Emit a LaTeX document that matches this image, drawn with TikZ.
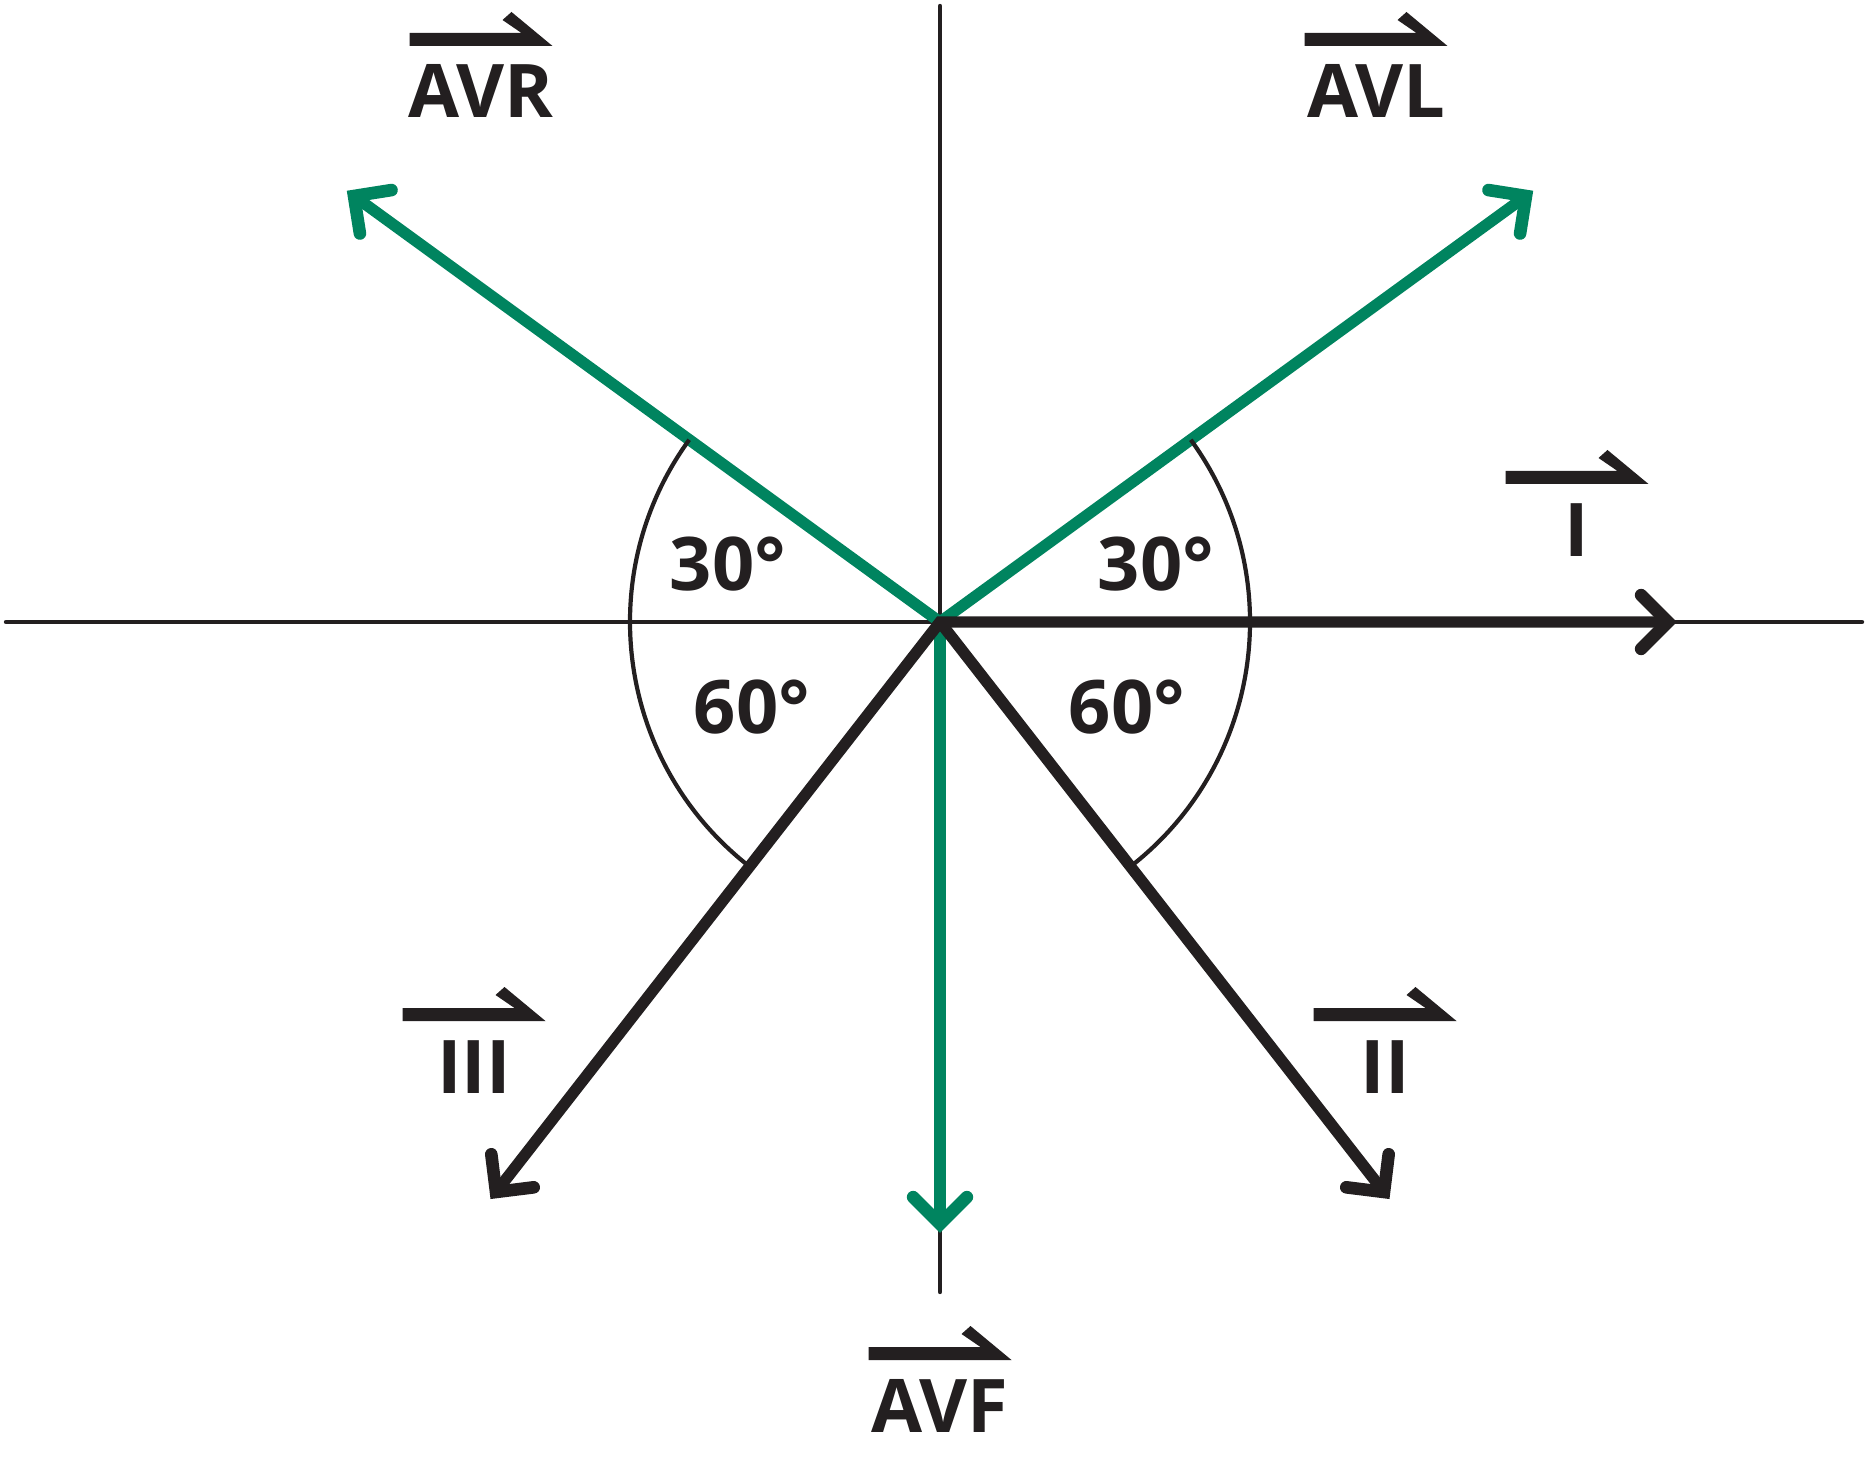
\documentclass[tikz,border=0pt]{standalone}
\usepackage{fontspec}
\setmainfont{Open Sans}
\usetikzlibrary{calc}
\definecolor{ekggreen}{HTML}{00845F}
\definecolor{ink}{HTML}{231F20}
\newcommand\leadharpoon[1]{%
  \fill[ink] ([shift={(-71.5,-72)}]#1.base) -- ([shift={(-71.5,-85)}]#1.base)
    -- ([shift={(40.5,-85)}]#1.base) -- ([shift={(21.5,-98)}]#1.base)
    -- ([shift={(30.5,-106)}]#1.base) -- ([shift={(71.5,-72)}]#1.base) -- cycle;}
\newcommand\leadtip[3]{%
  \draw[tipline,#3] ($(#1)!19pt!45:(#2)$) -- (#1) -- ($(#1)!19pt!-45:(#2)$);}
\begin{document}
\begin{tikzpicture}[x=0.5pt,y=-0.5pt,
  thinline/.style={ink,line width=2.2pt,line cap=round},
  arcline/.style={ink,line width=2.1pt},
  blackvec/.style={ink,line width=5.7pt,line join=miter},
  greenvec/.style={ekggreen,line width=5.7pt},
  tipline/.style={line width=6.3pt,line cap=round,line join=miter},
  lbl/.style={inner sep=0pt,font=\fontsize{37pt}{40pt}\selectfont\bfseries,text=ink,anchor=base}]
\useasboundingbox (0,0) rectangle (1869,1465);
\fill[white] (0,0) rectangle (1869,1465);
% centre and tips
\coordinate (O) at (940,622);
\coordinate (xl) at (6,622);
\coordinate (xr) at (1862,622);
\coordinate (yt) at (940,6);
\coordinate (yb) at (940,1292);
\coordinate (vI) at (1668,622);
\coordinate (vAVR) at (354,196);
\coordinate (vAVL) at (1526,196);
\coordinate (vIII) at (496,1192);
\coordinate (vII) at (1384,1192);
\coordinate (vAVF) at (940,1224);
% axes
\draw[thinline] (xl) -- (xr);
\draw[thinline] (yt) -- (yb);
% green vectors
\draw[greenvec] (O) -- (vAVR);
\draw[greenvec] (O) -- (vAVL);
\draw[greenvec] (O) -- (vAVF);
\leadtip{vAVR}{O}{ekggreen}
\leadtip{vAVL}{O}{ekggreen}
\leadtip{vAVF}{O}{ekggreen}
% black vectors
\draw[blackvec] (vIII) -- (O) -- (vI);
\draw[blackvec] (O) -- (vII);
\leadtip{vI}{O}{ink}
\leadtip{vII}{O}{ink}
\leadtip{vIII}{O}{ink}
% angle arcs
\draw[arcline] ($(O)+(216:310)$) arc[start angle=216, end angle=127.9, radius=310];
\draw[arcline] ($(O)+(-36:310)$) arc[start angle=-36, end angle=52.1, radius=310];
% angle labels
\node[lbl] (a30l) at (728,590) {30°};
\node[lbl] (a60l) at (752,733) {60°};
\node[lbl] (a30r) at (1156,590) {30°};
\node[lbl] (a60r) at (1127,733) {60°};
% lead labels
\node[lbl] (tAVR) at (481,118) {AVR};
\node[lbl] (tAVL) at (1376,118) {AVL};
\node[lbl] (tI) at (1577,556) {I};
\node[lbl] (tIII) at (474,1093) {III};
\node[lbl] (tII) at (1385,1093) {II};
\node[lbl] (tAVF) at (940,1432) {AVF};
\leadharpoon{tAVR}
\leadharpoon{tAVL}
\leadharpoon{tI}
\leadharpoon{tIII}
\leadharpoon{tII}
\leadharpoon{tAVF}
\end{tikzpicture}
\end{document}
